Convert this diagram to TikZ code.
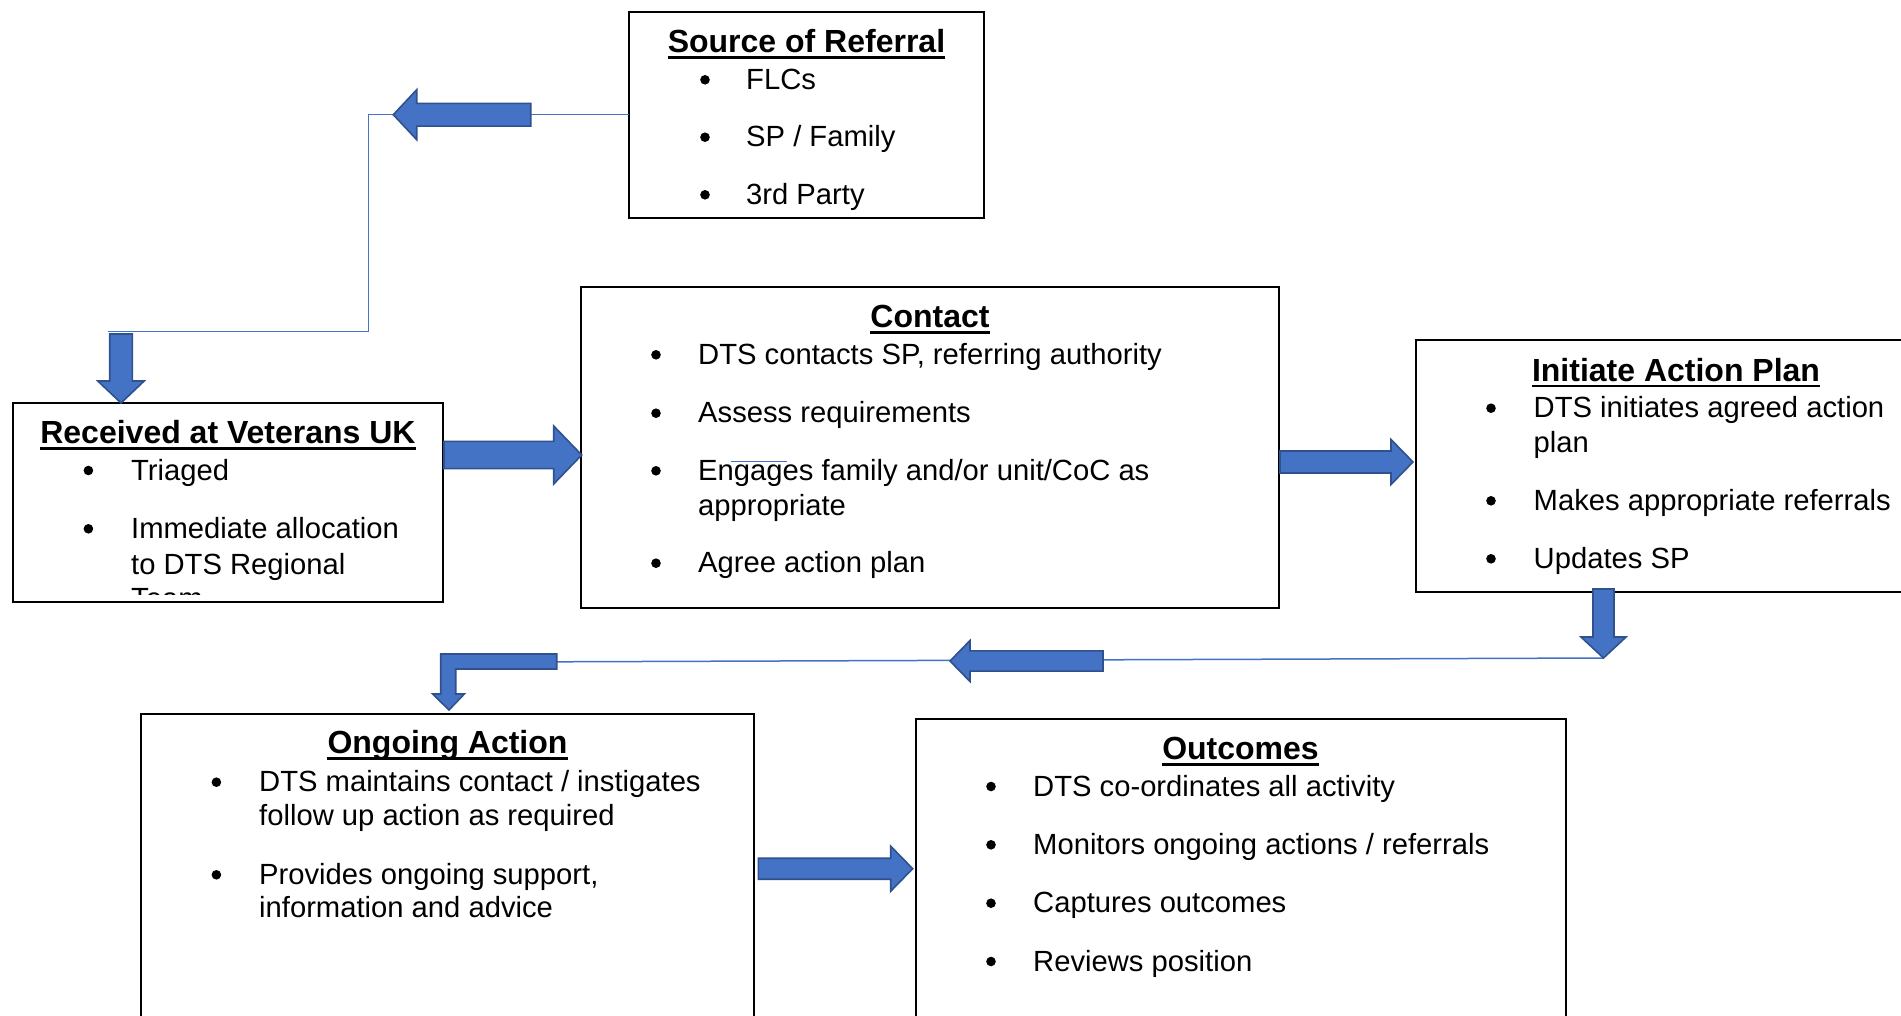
\documentclass[tikz,border=0pt]{standalone}
\usepackage{fontspec}
\setmainfont{Liberation Sans}
\definecolor{arrowfill}{RGB}{68,114,196}
\definecolor{arrowedge}{RGB}{47,82,143}
\definecolor{linkblue}{RGB}{68,114,196}
\newcommand\blockarrow[6]{% tip, angle, total length, shaft half, head half, head length
  \begin{scope}[shift={(#1)}, rotate=#2]
    \draw[barrow] (0,0) -- (-#6,#5) -- (-#6,#4) -- (-#3,#4) -- (-#3,-#4) -- (-#6,-#4) -- (-#6,-#5) -- cycle;
  \end{scope}}
\newcommand\bitem[5]{% name, bullet x, text x, baseline, text
  \fill (#2,#4-8.5) circle (4.8);
  \node[body] (#1) at (#3,#4) {#5};}
\newcommand\ttl[4]{% name, centre x, baseline, text
  \node[title] (#1) at (#2,#3) {#4};
  \draw[uline] ([yshift=-4.7pt]#1.base west) -- ([yshift=-4.7pt]#1.base east);}
\begin{document}
\begin{tikzpicture}[x=1pt,y=-1pt,
  box/.style={draw=black, line width=2pt, inner sep=0pt, outer sep=0pt, anchor=north west, rectangle},
  body/.style={font=\fontsize{29.2}{34.5}\selectfont, inner sep=0pt, anchor=base west, yshift=-1pt},
  title/.style={font=\fontsize{32}{36}\selectfont\bfseries, inner sep=0pt, anchor=base, yshift=-0.5pt},
  uline/.style={line width=2.8pt},
  barrow/.style={fill=arrowfill, draw=arrowedge, line width=1.6pt, line join=miter},
  link/.style={draw=linkblue, line width=1.5pt}]
\useasboundingbox (0,0) rectangle (1901,1015);
\clip (0,0) rectangle (1901,1015);
\fill[white] (0,0) rectangle (1901,1015);

% boxes
\node[box, minimum width=354.7pt, minimum height=206pt] (src) at (629.3,11.7) {};
\node[box, minimum width=698.3pt, minimum height=321pt] (contact) at (580.7,286.7) {};
\node[box, minimum width=430.6pt, minimum height=198.7pt] (recv) at (12.7,403) {};
\node[box, minimum width=520pt, minimum height=252pt] (init) at (1416,340) {};
\node[box, minimum width=613pt, minimum height=320pt] (ongo) at (141,714) {};
\node[box, minimum width=649.8pt, minimum height=320pt] (outc) at (915.7,719) {};

% named points of the connectors
\coordinate (bendA) at (368.3,114.7);
\coordinate (bendB) at (368.3,331.7);
\coordinate (lineEnd) at (108,331.7);
\coordinate (a1tip) at (393.3,114.7);
\coordinate (a2tip) at (121,403);
\coordinate (a3tip) at (581.7,455);
\coordinate (a4tip) at (1413,462);
\coordinate (a5tip) at (1603.5,658);
\coordinate (a6tip) at (950,661);
\coordinate (a7end) at (556.7,661.8);
\coordinate (a8tip) at (912.7,868.7);

% thin connector lines
\draw[link] (src.west) -- (bendA) -- (bendB) -- (lineEnd);
\draw[link] (a5tip) -- (a7end);

% block arrows
\blockarrow{a1tip}{180}{137.4}{11.4}{25}{23.4}
\blockarrow{a2tip}{-90}{69}{11.3}{23.2}{22}
\blockarrow{a3tip}{0}{137.7}{13.6}{29}{28}
\blockarrow{a4tip}{0}{133}{11}{22.5}{22}
\blockarrow{a5tip}{-90}{69}{10.5}{22.5}{21}
\blockarrow{a6tip}{180}{153}{10.1}{20.5}{20}
\blockarrow{a8tip}{0}{154.4}{10.5}{22.5}{22}
\draw[barrow] (a7end |- 0,654) -- (440.7,654) -- (440.7,694) -- (432.7,694) -- (449,710)
  -- (464.3,694) -- (455.7,694) -- (455.7,669) -- (a7end |- 0,669) -- cycle;

% Source of Referral
\ttl{tsrc}{806.5}{52.3}{Source of Referral}
\bitem{s1}{705}{746}{88.3}{FLCs}
\bitem{s2}{705}{746}{145.7}{SP / Family}
\bitem{s3}{705}{746}{203.3}{3rd Party}

% Contact
\ttl{tcon}{930}{327.3}{Contact}
\bitem{c1}{656}{698}{363.3}{DTS contacts SP, referring authority}
\bitem{c2}{656}{698}{421.7}{Assess requirements}
\bitem{c3}{656}{698}{479.3}{Engages family and/or unit/CoC as}
\node[body] (c3b) at (698,514.3) {appropriate};
\bitem{c4}{656}{698}{571.7}{Agree action plan}
\draw[draw=linkblue, line width=1pt] (731,461.7) -- (787,461.7);

% Received at Veterans UK
\ttl{trec}{228}{443.3}{Received at Veterans UK}
\bitem{r1}{88.4}{131}{479}{Triaged}
\bitem{r2}{88.4}{131}{537.3}{Immediate allocation}
\node[body] (r2b) at (131,573.3) {to DTS Regional};
\begin{scope}
  \clip (14,403) rectangle (442,594);
  \node[body] (r2c) at (131,607.8) {Team};
\end{scope}

% Initiate Action Plan
\ttl{tini}{1676}{380.7}{Initiate Action Plan}
\bitem{i1}{1491}{1533.5}{416.7}{DTS initiates agreed action}
\node[body] (i1b) at (1533.5,451.7) {plan};
\bitem{i2}{1491}{1533.5}{509.3}{Makes appropriate referrals}
\bitem{i3}{1491}{1533.5}{567.3}{Updates SP}

% Ongoing Action
\ttl{tong}{447.5}{753.3}{Ongoing Action}
\bitem{o1}{216.4}{259}{790.7}{DTS maintains contact / instigates}
\node[body] (o1b) at (259,824) {follow up action as required};
\bitem{o2}{216.4}{259}{883.3}{Provides ongoing support,}
\node[body] (o2b) at (259,916.7) {information and advice};

% Outcomes
\ttl{tout}{1240.5}{759.3}{Outcomes}
\bitem{u1}{991}{1033}{795}{DTS co-ordinates all activity}
\bitem{u2}{991}{1033}{853.3}{Monitors ongoing actions / referrals}
\bitem{u3}{991}{1033}{911.7}{Captures outcomes}
\bitem{u4}{991}{1033}{970}{Reviews position}
\end{tikzpicture}
\end{document}
